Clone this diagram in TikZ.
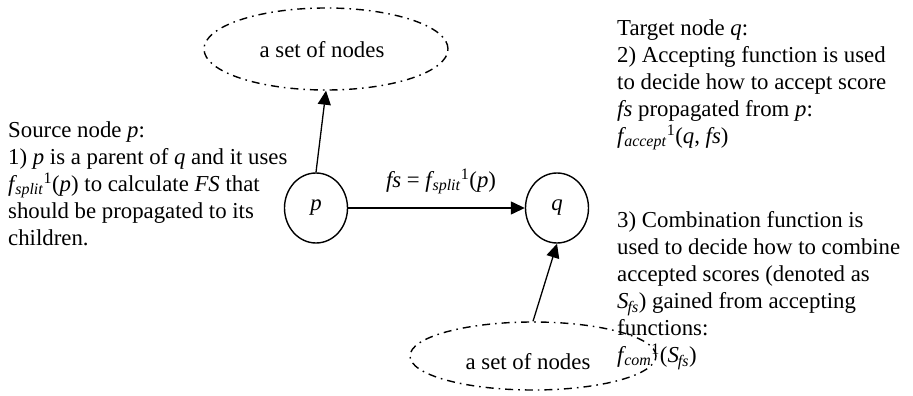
\documentclass[tikz,border=0pt]{standalone}
\usepackage{fontspec}
\setmainfont{Liberation Serif}
\usetikzlibrary{arrows.meta,shapes.geometric}

% f with an italic subscript followed by a superscript
\newcommand\fsubsup[2]{\textit{f}\kern-0.08em\textsubscript{\textit{#1}}\textsuperscript{#2}}

\tikzset{
  vertex/.style={draw, ellipse, line width=1.4pt, minimum width=63pt, minimum height=70pt, inner sep=0pt},
  group/.style={draw, ellipse, line width=1.4pt, dash pattern=on 8pt off 5pt on 1.6pt off 5pt, inner sep=0pt},
  arr/.style={line width=1.3pt, -{Triangle[length=14pt,width=13pt]}},
  % multi-line notes are placed by the baseline of their last line
  note/.style={anchor=base west, align=left, inner sep=0pt}
}

\begin{document}
\begin{tikzpicture}[x=1pt, y=-1pt, font=\fontsize{22.8}{27}\selectfont]
  \useasboundingbox (0,0) rectangle (913,396);

  % the two groups of nodes
  \node[group, minimum width=244pt, minimum height=82pt] (top) at (326,49) {};
  \node at (322,50) (toplabel) {a set of nodes};
  \node[group, minimum width=246pt, minimum height=68pt] (bottom) at (533,356) {};
  \node at (528,362) (bottomlabel) {a set of nodes};

  % source and target
  \node[vertex] (p) at (316,208) {\textit{p}};
  \node[vertex] (q) at (557,208) {\textit{q}};

  % connectors
  \draw[arr] (p.north) -- (top.south);
  \draw[arr] (p.east) -- (q.west);
  \draw[arr] (bottom.north) -- (q.south);

  % edge label
  \node[anchor=base] (fs) at (441,187) {\textit{fs} = \fsubsup{split}{1}(\textit{p})};

  % descriptions
  \node[note] (src) at (8,245) {Source node \textit{p}:\\
    1) \textit{p} is a parent of \textit{q} and it uses\\
    \fsubsup{split}{1}(\textit{p}) to calculate \textit{FS} that\\
    should be propagated to its\\
    children.};

  \node[note] (tgt) at (617,143) {Target node \textit{q}:\\
    2) Accepting function is used\\
    to decide how to accept score\\
    \textit{fs} propagated from \textit{p}:\\
    \fsubsup{accept}{1}(\textit{q}, \textit{fs})};

  \node[note] (comb) at (617,362) {3) Combination function is\\
    used to decide how to combine\\
    accepted scores (denoted as\\
    \textit{S}\kern-0.04em\textsubscript{\textit{fs}}) gained from accepting\\
    functions:\\
    \fsubsup{com}{1}(\textit{S}\kern-0.04em\textsubscript{\textit{fs}})};
\end{tikzpicture}
\end{document}
